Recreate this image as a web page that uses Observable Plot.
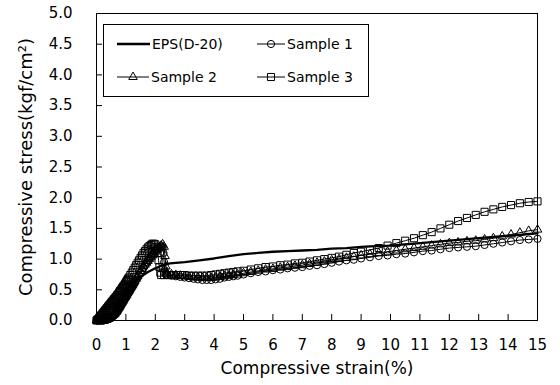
<!DOCTYPE html>
<html>
<head>
<meta charset="utf-8">
<script src="https://cdn.jsdelivr.net/npm/d3@7"></script>
<script src="https://cdn.jsdelivr.net/npm/@observablehq/plot@0.6"></script>
<style>
  html, body { margin: 0; padding: 0; background: white; }
  #chart { width: 560px; height: 385px; }
</style>
</head>
<body>
<div id="chart"></div>
<script>
// ---- tick labels ----
const xTicks = [0,1,2,3,4,5,6,7,8,9,10,11,12,13,14,15];
const yTicks = [0,0.5,1,1.5,2,2.5,3,3.5,4,4.5,5];
const xTitle = "Compressive strain(%)";
const yTitle = "Compressive stress(kgf/cm²)";
const seriesNames = ["EPS(D-20)", "Sample 1", "Sample 2", "Sample 3"];

// ---- EPS(D-20): strain (%) and stress (kgf/cm2) ----
const epsStrain = [0,0.3,0.5,0.75,1.0,1.25,1.5,1.75,2.0,2.25,2.5,3.0,3.5,4.0,4.5,5.0,5.5,6.0,6.5,7.0,7.5,8.0,8.5,9.0,9.5,10.0,10.5,11.0,11.5,12.0,12.5,13.0,13.5,14.0,14.5,15.0];
const epsStress = [0,0.02,0.12,0.3,0.47,0.6,0.71,0.79,0.85,0.9,0.93,0.95,0.98,1.01,1.05,1.08,1.1,1.12,1.13,1.14,1.15,1.17,1.18,1.2,1.21,1.22,1.24,1.26,1.28,1.3,1.32,1.34,1.36,1.38,1.4,1.42];

// ---- Samples: early (loading) part, [strain, stress] ----
const sample1Early = [[0,0],[0.025,0],[0.05,0],[0.075,0],[0.1,0],[0.125,0],[0.15,0],[0.175,0],[0.2,0],[0.225,0],[0.25,0],[0.275,0.01],[0.3,0.01],[0.325,0.01],[0.35,0.01],[0.375,0.02],[0.4,0.02],[0.425,0.03],[0.45,0.03],[0.475,0.04],[0.5,0.05],[0.525,0.06],[0.55,0.07],[0.575,0.08],[0.6,0.09],[0.625,0.1],[0.65,0.12],[0.675,0.13],[0.7,0.15],[0.725,0.16],[0.75,0.18],[0.775,0.2],[0.8,0.22],[0.825,0.24],[0.85,0.26],[0.875,0.28],[0.9,0.3],[0.925,0.32],[0.95,0.34],[0.975,0.36],[1.0,0.38],[1.025,0.4],[1.05,0.42],[1.075,0.44],[1.1,0.46],[1.125,0.48],[1.15,0.5],[1.175,0.52],[1.2,0.54],[1.225,0.56],[1.25,0.58],[1.275,0.6],[1.3,0.62],[1.35,0.66],[1.4,0.7],[1.45,0.74],[1.5,0.78],[1.55,0.82],[1.6,0.86],[1.65,0.9],[1.7,0.94],[1.75,0.98],[1.8,1.01],[1.85,1.04],[1.9,1.07],[1.95,1.1],[2.0,1.13],[2.05,1.16],[2.1,1.18],[2.15,1.2],[2.2,1.21],[2.25,1.19],[2.28,1.1],[2.3,0.95],[2.32,0.82],[2.35,0.76]];
const sample2Early = [[0,0],[0.025,0],[0.05,0],[0.075,0],[0.1,0],[0.125,0],[0.15,0],[0.175,0],[0.2,0],[0.225,0.01],[0.25,0.01],[0.275,0.01],[0.3,0.01],[0.325,0.02],[0.35,0.02],[0.375,0.02],[0.4,0.03],[0.425,0.03],[0.45,0.04],[0.475,0.05],[0.5,0.06],[0.525,0.07],[0.55,0.08],[0.575,0.09],[0.6,0.1],[0.625,0.11],[0.65,0.13],[0.675,0.14],[0.7,0.16],[0.725,0.18],[0.75,0.2],[0.775,0.22],[0.8,0.24],[0.825,0.26],[0.85,0.28],[0.875,0.3],[0.9,0.32],[0.925,0.34],[0.95,0.36],[0.975,0.38],[1.0,0.4],[1.025,0.42],[1.05,0.44],[1.075,0.46],[1.1,0.48],[1.125,0.5],[1.15,0.52],[1.175,0.54],[1.2,0.56],[1.225,0.58],[1.25,0.6],[1.275,0.62],[1.3,0.64],[1.35,0.68],[1.4,0.72],[1.45,0.76],[1.5,0.8],[1.55,0.84],[1.6,0.88],[1.65,0.91],[1.7,0.94],[1.75,0.97],[1.8,1.0],[1.85,1.03],[1.9,1.06],[1.95,1.09],[2.0,1.12],[2.05,1.15],[2.1,1.18],[2.15,1.2],[2.2,1.22],[2.25,1.24],[2.3,1.2],[2.33,1.05],[2.36,0.88],[2.38,0.78]];
const sample3Early = [[0,0],[0.025,0.01],[0.05,0.02],[0.075,0.03],[0.1,0.05],[0.125,0.06],[0.15,0.08],[0.175,0.09],[0.2,0.11],[0.225,0.12],[0.25,0.14],[0.275,0.15],[0.3,0.17],[0.325,0.18],[0.35,0.2],[0.375,0.21],[0.4,0.23],[0.425,0.24],[0.45,0.26],[0.475,0.27],[0.5,0.29],[0.525,0.3],[0.55,0.32],[0.575,0.33],[0.6,0.35],[0.625,0.36],[0.65,0.38],[0.675,0.39],[0.7,0.41],[0.725,0.42],[0.75,0.44],[0.775,0.46],[0.8,0.48],[0.825,0.49],[0.85,0.51],[0.875,0.53],[0.9,0.55],[0.925,0.56],[0.95,0.58],[0.975,0.6],[1.0,0.62],[1.025,0.64],[1.05,0.66],[1.075,0.68],[1.1,0.7],[1.15,0.74],[1.2,0.78],[1.25,0.82],[1.3,0.86],[1.35,0.9],[1.4,0.94],[1.45,0.98],[1.5,1.02],[1.55,1.06],[1.6,1.1],[1.65,1.13],[1.7,1.16],[1.75,1.19],[1.8,1.21],[1.85,1.23],[1.9,1.25],[1.95,1.25],[2.0,1.24],[2.05,1.2],[2.08,1.1],[2.11,0.98],[2.14,0.87],[2.17,0.78],[2.2,0.74],[2.3,0.74]];

// ---- Samples: later part, shared strain values ----
const lateStrain = [2.4,2.55,2.7,2.85,3.0,3.15,3.3,3.45,3.6,3.75,3.9,4.05,4.2,4.35,4.5,4.65,4.8,5.0,5.25,5.5,5.75,6.0,6.25,6.5,6.75,7.0,7.25,7.5,7.75,8.0,8.25,8.5,8.75,9.0,9.3,9.6,9.9,10.2,10.5,10.8,11.1,11.4,11.7,12.0,12.3,12.6,12.9,13.2,13.5,13.8,14.1,14.4,14.7,15.0];
const sample1Late = [0.74,0.73,0.72,0.71,0.7,0.69,0.68,0.67,0.66,0.66,0.66,0.67,0.68,0.7,0.71,0.72,0.73,0.75,0.77,0.79,0.8,0.82,0.83,0.85,0.86,0.87,0.89,0.9,0.92,0.94,0.96,0.98,0.99,1.01,1.03,1.05,1.06,1.08,1.09,1.11,1.13,1.14,1.16,1.18,1.19,1.2,1.21,1.23,1.25,1.27,1.29,1.31,1.32,1.33];
const sample2Late = [0.76,0.75,0.74,0.73,0.72,0.71,0.7,0.7,0.69,0.69,0.69,0.7,0.71,0.72,0.73,0.74,0.75,0.77,0.79,0.81,0.83,0.84,0.86,0.87,0.89,0.9,0.92,0.94,0.96,0.98,1.0,1.02,1.04,1.06,1.08,1.1,1.12,1.14,1.16,1.18,1.2,1.22,1.24,1.26,1.27,1.29,1.3,1.32,1.34,1.37,1.4,1.43,1.46,1.48];
const sample3Late = [0.74,0.74,0.74,0.74,0.74,0.73,0.73,0.73,0.73,0.73,0.74,0.75,0.76,0.77,0.78,0.79,0.8,0.81,0.83,0.85,0.87,0.88,0.9,0.91,0.93,0.94,0.96,0.98,1.0,1.02,1.04,1.07,1.1,1.12,1.15,1.18,1.22,1.26,1.3,1.34,1.39,1.44,1.5,1.56,1.62,1.67,1.72,1.77,1.81,1.85,1.88,1.91,1.93,1.94];

// ---- build tables ----
const eps = epsStrain.map((x, i) => ({x, y: epsStress[i]}));
function build(early, late) {
  return early.map(([x, y]) => ({x, y})).concat(lateStrain.map((x, i) => ({x, y: late[i]})));
}
const s1 = build(sample1Early, sample1Late);
const s2 = build(sample2Early, sample2Late);
const s3 = build(sample3Early, sample3Late);

const W = 560, H = 385;
const mL = 96, mR = 23, mT = 13, mB = 65;
const plotW = W - mL - mR, plotH = H - mT - mB;
const FONT = "DejaVu Sans";

const chart = Plot.plot({
  width: W, height: H,
  marginLeft: mL, marginRight: mR, marginTop: mT, marginBottom: mB,
  style: {fontFamily: FONT, fontSize: "15px", color: "black", background: "white"},
  x: {domain: [0, 15], label: null},
  y: {domain: [0, 5], label: null},
  marks: [
    Plot.axisX({ticks: xTicks, tickSize: 0, tickPadding: 19, tickFormat: d => String(d), fontSize: 15}),
    Plot.axisY({ticks: yTicks, tickSize: 0, tickPadding: 24, tickFormat: d => d.toFixed(1), fontSize: 15}),
    Plot.tickX(xTicks, {x: d => d, insetTop: plotH - 6, stroke: "black"}),
    Plot.tickY(yTicks, {y: d => d, insetRight: plotW - 6, stroke: "black"}),
    Plot.frame({stroke: "black"}),
    Plot.line(eps, {x: "x", y: "y", stroke: "black", strokeWidth: 2.3}),
    Plot.line(s1, {x: "x", y: "y", stroke: "black", strokeWidth: 1}),
    Plot.dot(s1, {x: "x", y: "y", symbol: "circle", r: 3.6, stroke: "black", fill: "none", strokeWidth: 1}),
    Plot.line(s2, {x: "x", y: "y", stroke: "black", strokeWidth: 1}),
    Plot.dot(s2, {x: "x", y: "y", symbol: "triangle", r: 3.2, stroke: "black", fill: "none", strokeWidth: 1}),
    Plot.line(s3, {x: "x", y: "y", stroke: "black", strokeWidth: 1}),
    Plot.dot(s3, {x: "x", y: "y", symbol: "square", r: 4.0, stroke: "black", fill: "none", strokeWidth: 1}),
    Plot.text([xTitle], {frameAnchor: "bottom", dy: 53, fontSize: 17, fill: "black", textAnchor: "middle"}),
    Plot.text([yTitle], {frameAnchor: "left", dx: -70, rotate: -90, fontSize: 18, fill: "black", textAnchor: "middle"})
  ]
});

// ---- legend inside the plot (drawn into the same svg) ----
const svg = d3.select(chart);
const lg = svg.append("g").attr("font-family", FONT).attr("font-size", 14).attr("text-anchor", "start");
lg.append("rect").attr("x", 103.5).attr("y", 24.5).attr("width", 265).attr("height", 72)
  .attr("fill", "white").attr("stroke", "black");
const legendItems = [
  {name: seriesNames[0], sym: null, x: 117, y: 44, len: 33, w: 2.7},
  {name: seriesNames[1], sym: d3.symbolCircle, x: 257, y: 44, len: 28, w: 1, size: Math.PI * 3.6 * 3.6},
  {name: seriesNames[2], sym: d3.symbolTriangle, x: 117, y: 77, len: 32, w: 1, size: Math.PI * 3.2 * 3.2},
  {name: seriesNames[3], sym: d3.symbolSquare, x: 257, y: 77, len: 28, w: 1, size: Math.PI * 4 * 4}
];
for (const it of legendItems) {
  lg.append("line").attr("x1", it.x).attr("x2", it.x + it.len).attr("y1", it.y).attr("y2", it.y)
    .attr("stroke", "black").attr("stroke-width", it.w);
  if (it.sym) {
    lg.append("path").attr("d", d3.symbol(it.sym, it.size)())
      .attr("transform", `translate(${it.x + it.len / 2},${it.y})`)
      .attr("fill", "none").attr("stroke", "black");
  }
  lg.append("text").attr("x", it.x + it.len + 2).attr("y", it.y).attr("dy", "0.35em")
    .attr("fill", "black").text(it.name);
}

document.getElementById("chart").appendChild(chart);
</script>
</body>
</html>
